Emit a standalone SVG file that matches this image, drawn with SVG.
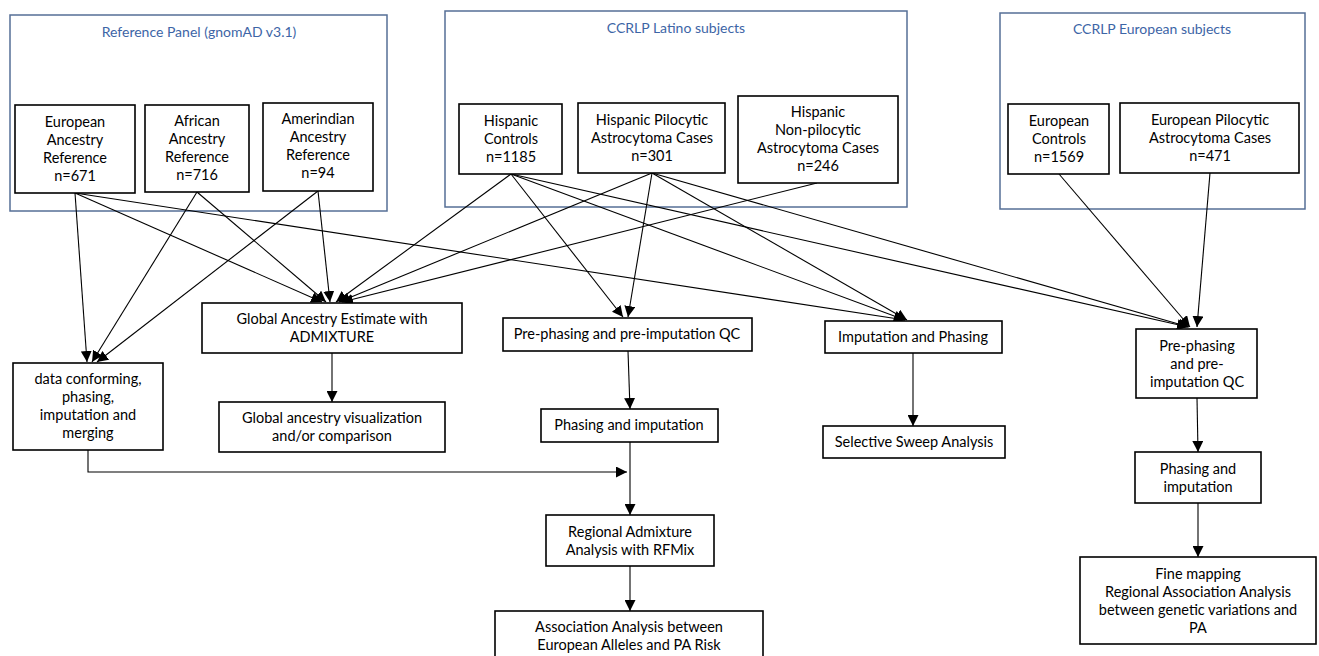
<svg xmlns="http://www.w3.org/2000/svg" width="1319" height="656" viewBox="0 0 1319 656">
<style>
.panel{fill:none;stroke:#566f96;stroke-width:1.5}
.title{font-family:Lato,"Liberation Sans",sans-serif;font-size:14px;fill:#3d65a6;text-anchor:middle}
.box{fill:#fff;stroke:#000;stroke-width:1.6}
.t{font-family:Lato,"Liberation Sans",sans-serif;font-size:14.5px;fill:#000;text-anchor:middle}
.c{fill:none;stroke:#000;stroke-width:1.1}
</style>
<defs>
<marker id="ah" markerUnits="userSpaceOnUse" markerWidth="11" markerHeight="11" refX="11" refY="5.5" orient="auto">
<path d="M0,0 L11,5.5 L0,11 z" fill="#000"/>
</marker>
</defs>
<rect width="1319" height="656" fill="#fff"/>
<g id="panels">
<rect class="panel" x="10" y="15" width="377" height="196"/>
<text class="title" x="199" y="37">Reference Panel (gnomAD v3.1)</text>
<rect class="panel" x="445" y="11" width="462" height="196"/>
<text class="title" x="676" y="33">CCRLP Latino subjects</text>
<rect class="panel" x="1000" y="13" width="305" height="196"/>
<text class="title" x="1152" y="34">CCRLP European subjects</text>
</g>
<g id="connectors" class="c">
<line x1="75" y1="193" x2="87" y2="362" marker-end="url(#ah)"/>
<line x1="197" y1="192" x2="92" y2="362" marker-end="url(#ah)"/>
<line x1="318" y1="191" x2="97" y2="362" marker-end="url(#ah)"/>
<line x1="75" y1="193" x2="322" y2="302" marker-end="url(#ah)"/>
<line x1="197" y1="192" x2="326" y2="302" marker-end="url(#ah)"/>
<line x1="318" y1="191" x2="330" y2="302" marker-end="url(#ah)"/>
<line x1="511" y1="174" x2="336" y2="302" marker-end="url(#ah)"/>
<line x1="652" y1="173" x2="339" y2="302" marker-end="url(#ah)"/>
<line x1="817" y1="183" x2="342" y2="302" marker-end="url(#ah)"/>
<line x1="511" y1="174" x2="623" y2="317" marker-end="url(#ah)"/>
<line x1="652" y1="173" x2="628" y2="317" marker-end="url(#ah)"/>
<line x1="75" y1="193" x2="905" y2="320" marker-end="url(#ah)"/>
<line x1="511" y1="174" x2="905" y2="320" marker-end="url(#ah)"/>
<line x1="652" y1="173" x2="907" y2="320" marker-end="url(#ah)"/>
<line x1="511" y1="174" x2="1188" y2="327" marker-end="url(#ah)"/>
<line x1="652" y1="173" x2="1189" y2="327" marker-end="url(#ah)"/>
<line x1="1059" y1="174" x2="1190" y2="327" marker-end="url(#ah)"/>
<line x1="1210" y1="173" x2="1197" y2="327" marker-end="url(#ah)"/>
<line x1="332" y1="353" x2="332" y2="402" marker-end="url(#ah)"/>
<line x1="628" y1="351" x2="630" y2="409" marker-end="url(#ah)"/>
<line x1="630" y1="442" x2="630" y2="515" marker-end="url(#ah)"/>
<path d="M88,450 V472 H627" marker-end="url(#ah)"/>
<line x1="630" y1="566" x2="630" y2="611" marker-end="url(#ah)"/>
<line x1="913" y1="353" x2="913" y2="426" marker-end="url(#ah)"/>
<line x1="1197" y1="398" x2="1198" y2="452" marker-end="url(#ah)"/>
<line x1="1198" y1="503" x2="1198" y2="557" marker-end="url(#ah)"/>
</g>
<g id="n-eur-ref"><rect class="box" x="15" y="105" width="120" height="88"/>
<text class="t" x="75" y="127">European<tspan x="75" dy="18">Ancestry</tspan><tspan x="75" dy="18">Reference</tspan><tspan x="75" dy="18">n=671</tspan></text></g>
<g id="n-afr-ref"><rect class="box" x="145" y="105" width="104" height="87"/>
<text class="t" x="197" y="126">African<tspan x="197" dy="18">Ancestry</tspan><tspan x="197" dy="18">Reference</tspan><tspan x="197" dy="18">n=716</tspan></text></g>
<g id="n-amr-ref"><rect class="box" x="263" y="103" width="110" height="88"/>
<text class="t" x="318" y="124">Amerindian<tspan x="318" dy="18">Ancestry</tspan><tspan x="318" dy="18">Reference</tspan><tspan x="318" dy="18">n=94</tspan></text></g>
<g id="n-hisp-ctrl"><rect class="box" x="459" y="104" width="103" height="70"/>
<text class="t" x="511" y="126">Hispanic<tspan x="511" dy="18">Controls</tspan><tspan x="511" dy="18">n=1185</tspan></text></g>
<g id="n-hisp-pa"><rect class="box" x="578" y="103" width="147" height="70"/>
<text class="t" x="652" y="125">Hispanic Pilocytic<tspan x="652" dy="18">Astrocytoma Cases</tspan><tspan x="652" dy="18">n=301</tspan></text></g>
<g id="n-hisp-npa"><rect class="box" x="738" y="96" width="160" height="87"/>
<text class="t" x="818" y="117">Hispanic<tspan x="818" dy="18">Non-pilocytic</tspan><tspan x="818" dy="18">Astrocytoma Cases</tspan><tspan x="818" dy="18">n=246</tspan></text></g>
<g id="n-eur-ctrl"><rect class="box" x="1008" y="104" width="101" height="70"/>
<text class="t" x="1059" y="126">European<tspan x="1059" dy="18">Controls</tspan><tspan x="1059" dy="18">n=1569</tspan></text></g>
<g id="n-eur-pa"><rect class="box" x="1120" y="103" width="179" height="70"/>
<text class="t" x="1210" y="125">European Pilocytic<tspan x="1210" dy="18">Astrocytoma Cases</tspan><tspan x="1210" dy="18">n=471</tspan></text></g>
<g id="n-admixture"><rect class="box" x="202" y="303" width="260" height="50"/>
<text class="t" x="332" y="324">Global Ancestry Estimate with<tspan x="332" dy="18">ADMIXTURE</tspan></text></g>
<g id="n-conform"><rect class="box" x="13" y="363" width="150" height="87"/>
<text class="t" x="88" y="384">data conforming,<tspan x="88" dy="18">phasing,</tspan><tspan x="88" dy="18">imputation and</tspan><tspan x="88" dy="18">merging</tspan></text></g>
<g id="n-globalviz"><rect class="box" x="219" y="402" width="226" height="50"/>
<text class="t" x="332" y="423">Global ancestry visualization<tspan x="332" dy="18">and/or comparison</tspan></text></g>
<g id="n-preqc"><rect class="box" x="503" y="318" width="249" height="33"/>
<text class="t" x="627" y="339">Pre-phasing and pre-imputation QC</text></g>
<g id="n-phasing"><rect class="box" x="541" y="409" width="177" height="33"/>
<text class="t" x="629" y="430">Phasing and imputation</text></g>
<g id="n-impphase"><rect class="box" x="825" y="321" width="177" height="32"/>
<text class="t" x="913" y="342">Imputation and Phasing</text></g>
<g id="n-sweep"><rect class="box" x="823" y="426" width="182" height="32"/>
<text class="t" x="914" y="447">Selective Sweep Analysis</text></g>
<g id="n-eur-preqc"><rect class="box" x="1136" y="329" width="121" height="69"/>
<text class="t" x="1197" y="351">Pre-phasing<tspan x="1197" dy="18">and pre-</tspan><tspan x="1197" dy="18">imputation QC</tspan></text></g>
<g id="n-eur-phasing"><rect class="box" x="1135" y="452" width="126" height="51"/>
<text class="t" x="1198" y="474">Phasing and<tspan x="1198" dy="18">imputation</tspan></text></g>
<g id="n-finemap"><rect class="box" x="1080" y="557" width="236" height="87"/>
<text class="t" x="1198" y="579">Fine mapping<tspan x="1198" dy="18">Regional Association Analysis</tspan><tspan x="1198" dy="18">between genetic variations and</tspan><tspan x="1198" dy="18">PA</tspan></text></g>
<g id="n-rfmix"><rect class="box" x="546" y="515" width="168" height="51"/>
<text class="t" x="630" y="537">Regional Admixture<tspan x="630" dy="18">Analysis with RFMix</tspan></text></g>
<g id="n-assoc"><rect class="box" x="495" y="611" width="268" height="60"/>
<text class="t" x="629" y="632">Association Analysis between<tspan x="629" dy="18">European Alleles and PA Risk</tspan></text></g>
</svg>
